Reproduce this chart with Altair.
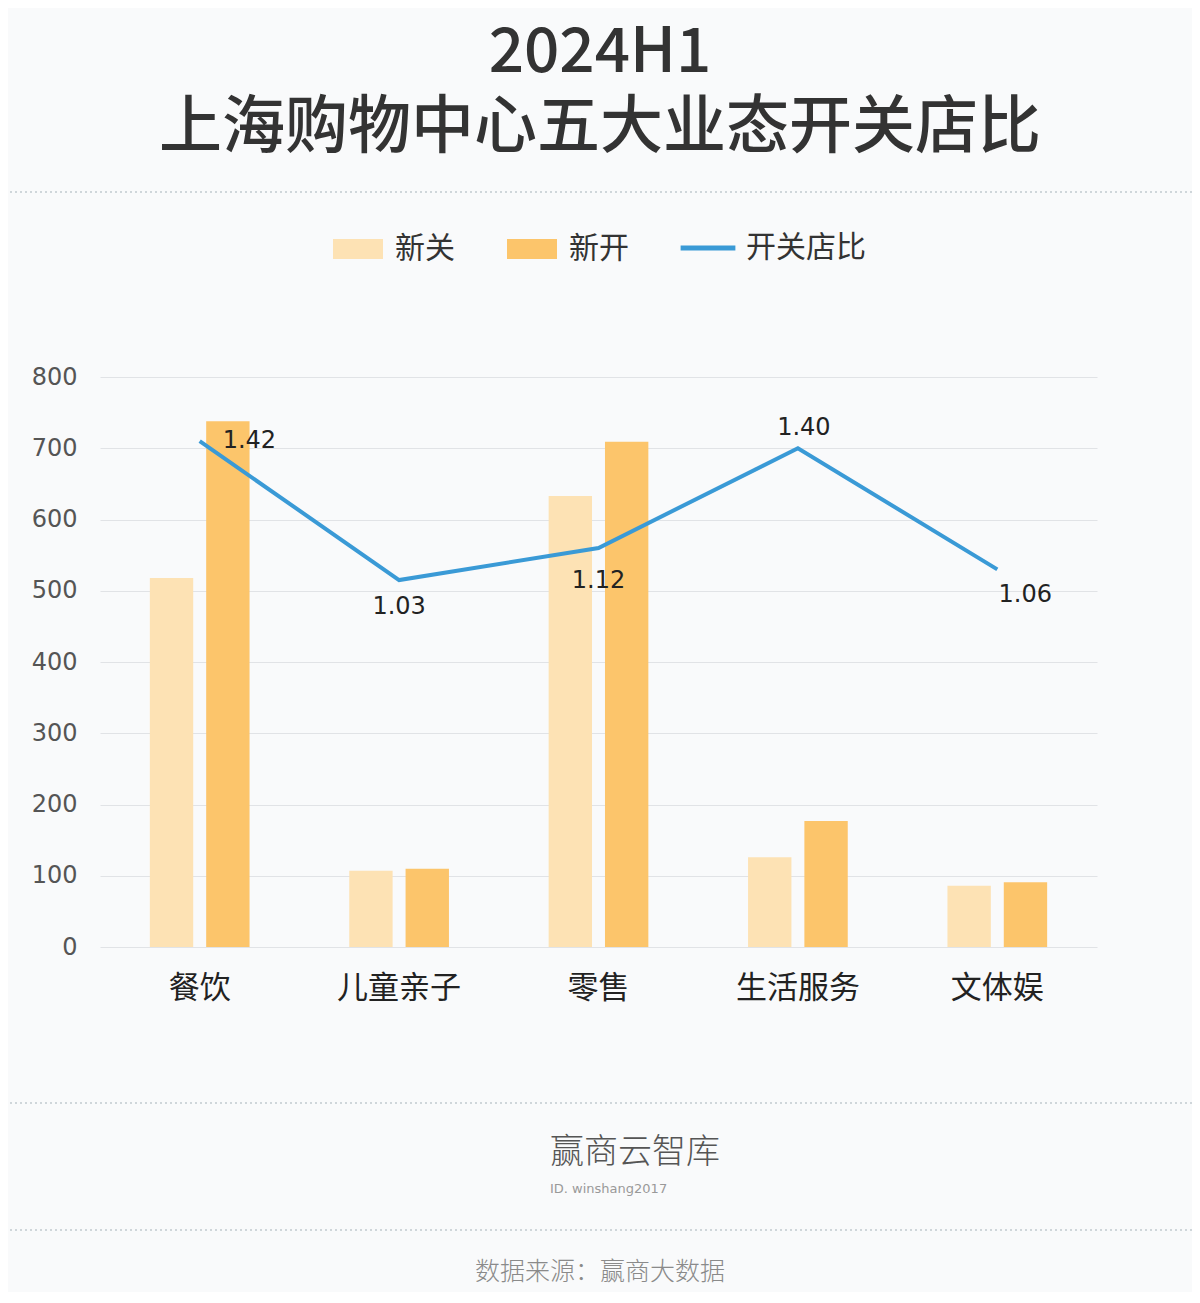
import altair as alt
import pandas as pd

categories = ["餐饮", "儿童亲子", "零售", "生活服务", "文体娱"]
closed = [518, 107, 633, 126, 86]      # 新关
opened = [738, 110, 709, 177, 91]      # 新开
ratio = [1.42, 1.03, 1.12, 1.40, 1.06] # 开关店比
series = ["新关", "新开"]
bar_colors = ["#fde2b4", "#fcc56b"]
line_color = "#3a9ad6"

bars_df = pd.DataFrame({
    "cat": categories * 2,
    "series": ["新关"] * 5 + ["新开"] * 5,
    "value": closed + opened,
})
line_df = pd.DataFrame({"cat": categories, "ratio": ratio, "name": ["开关店比"] * 5})

CJK = "Noto Sans CJK SC"
NUM = "DejaVu Sans"

x_enc = alt.X("cat:N", sort=categories,
              scale=alt.Scale(paddingInner=0.5, paddingOuter=0.25),
              axis=alt.Axis(title=None, labelFont=CJK, labelFontSize=31, labelColor="#222",
                            labelPadding=26, ticks=False, domain=False, labelAngle=0))

bars = alt.Chart(bars_df).mark_bar().encode(
    x=x_enc,
    xOffset=alt.XOffset("series:N", sort=series, scale=alt.Scale(paddingInner=0.23, paddingOuter=0)),
    y=alt.Y("value:Q", scale=alt.Scale(domain=[0, 800]),
            axis=alt.Axis(title=None, values=list(range(0, 801, 100)), orient="left",
                          labelFont=NUM, labelFontSize=24, labelColor="#555", labelPadding=23,
                          ticks=False, domain=False, grid=True, gridColor="#e1e3e6", gridWidth=1)),
    color=alt.Color("series:N", sort=series,
                    scale=alt.Scale(domain=series, range=bar_colors),
                    legend=alt.Legend(title=None, orient="none", direction="horizontal",
                                      legendX=233, legendY=-153,
                                      symbolType="M-1,-0.4H1V0.4H-1Z", symbolSize=2500,
                                      symbolStrokeWidth=0, labelFont=CJK, labelFontSize=30,
                                      labelColor="#333", labelOffset=12, columnPadding=52)),
)

y_ratio = alt.Y("ratio:Q", scale=alt.Scale(domain=[0, 1.6]),
                axis=alt.Axis(title=None, orient="right", values=[0, 0.2, 0.4, 0.6, 0.8, 1.0, 1.2, 1.4, 1.6],
                              format=".2f", labelFont=NUM, labelFontSize=24, labelColor="#555",
                              labelPadding=20, ticks=False, domain=False, grid=False))

line = alt.Chart(line_df).mark_line(strokeWidth=4).encode(
    x=alt.X("cat:N", sort=categories),
    y=y_ratio,
    stroke=alt.Stroke("name:N", scale=alt.Scale(domain=["开关店比"], range=[line_color]),
                      legend=alt.Legend(title=None, orient="none", legendX=578, legendY=-159,
                                        symbolType="stroke", symbolSize=3000, symbolStrokeWidth=5,
                                        labelFont=CJK, labelFontSize=30, labelColor="#333",
                                        labelOffset=8)),
)

label_pos = {
    "餐饮": dict(dx=23, dy=0, align="left"),
    "儿童亲子": dict(dx=0, dy=27, align="center"),
    "零售": dict(dx=0, dy=33, align="center"),
    "生活服务": dict(dx=6, dy=-20, align="center"),
    "文体娱": dict(dx=28, dy=26, align="center"),
}
label_layers = []
for c in categories:
    p = label_pos[c]
    label_layers.append(
        alt.Chart(line_df).transform_filter(alt.datum.cat == c).mark_text(
            font=NUM, fontSize=24, color="#222", baseline="middle", **p
        ).encode(
            x=alt.X("cat:N", sort=categories),
            y=alt.Y("ratio:Q", scale=alt.Scale(domain=[0, 1.6]), axis=None),
            text=alt.Text("ratio:Q", format=".2f"),
        )
    )

ratio_layer = alt.layer(line, *label_layers)

# decorative separators, title and footer text
sep_df = pd.DataFrame({"k": [0]})
def sep(yv):
    return alt.Chart(sep_df).mark_rule(color="#cfd6da", strokeDash=[2, 3], strokeWidth=2).encode(
        x=alt.value(-100), x2=alt.value(1100), y=alt.value(yv))

def txt(s, xv, yv, size, color, align="center", weight=400, font=CJK):
    return alt.Chart(pd.DataFrame({"t": [s]})).mark_text(
        font=font, fontSize=size, color=color, align=align, baseline="middle", fontWeight=weight
    ).encode(text="t:N", x=alt.value(xv), y=alt.value(yv))

OY = 377
decor = [
    txt("2024H1", 500, 53 - OY, 62, "#333", weight=500),
    txt("上海购物中心五大业态开关店比", 500, 128 - OY, 63, "#333", weight=500),
    sep(192 - OY), sep(1103 - OY), sep(1230 - OY),
    txt("赢商云智库", 450, 1153 - OY, 34, "#555", align="left", weight=300),
    txt("ID. winshang2017", 450, 1189 - OY, 13, "#999", align="left", font=NUM),
    txt("数据来源：赢商大数据", 500, 1272 - OY, 25, "#8a8a8a", weight=300),
]

chart = alt.layer(bars, ratio_layer, *decor).resolve_scale(
    y="independent", color="independent"
).properties(
    width=997, height=570,
    padding={"left": 92, "top": 369, "right": 95, "bottom": 345},
    autosize=alt.AutoSizeParams(type="none"),
    background="#f9fafb",
).configure_view(stroke=None)

chart.save("out.html", embed_options={"renderer": "svg", "actions": False})
